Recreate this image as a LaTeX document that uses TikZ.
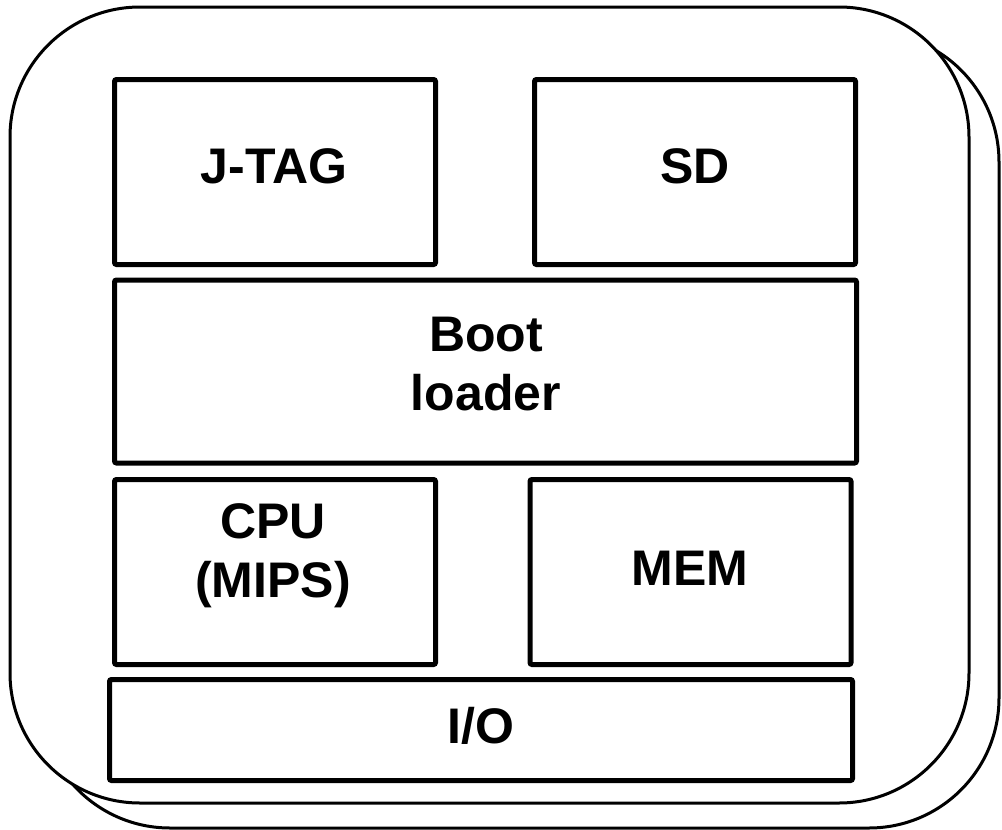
\documentclass[tikz,border=0pt]{standalone}
\usepackage{fontspec}
\setmainfont{Liberation Sans}
\begin{document}
\begin{tikzpicture}[x=1pt,y=-1pt,
  panel/.style={draw=black, line width=3pt, fill=white, rounded corners=130pt},
  block/.style={draw=black, line width=5pt, rounded corners=2pt, inner sep=0pt, fill=white},
  label/.style={font=\fontsize{50}{59}\selectfont\bfseries, align=center, anchor=base, inner sep=0pt}]
  \useasboundingbox (0,0) rectangle (1002,830);

  % stacked board outlines
  \draw[panel] (40,32) rectangle (999,828);
  \draw[panel] (10,7) rectangle (969,803);

  % functional blocks
  \node[block, minimum width=321pt, minimum height=185pt] (jtag) at (275,172) {};
  \node[block, minimum width=321pt, minimum height=185pt] (sd)   at (695,172) {};
  \node[block, minimum width=742pt, minimum height=183pt] (boot) at (485.5,371.5) {};
  \node[block, minimum width=321pt, minimum height=185pt] (cpu)  at (275,572) {};
  \node[block, minimum width=321pt, minimum height=185pt] (mem)  at (690.5,572) {};
  \node[block, minimum width=743pt, minimum height=101pt] (io)   at (481,730) {};

  % block captions (base = baseline of the last line)
  \node[label] (jtagtxt) at (274,183) {J-TAG};
  \node[label] (sdtxt)   at (695,183) {SD};
  \node[label] (boottxt) at (486,410) {Boot\\loader};
  \node[label] (cputxt)  at (273,597) {CPU\\(MIPS)};
  \node[label] (memtxt)  at (690,585) {MEM};
  \node[label] (iotxt)   at (481,743) {I/O};
\end{tikzpicture}
\end{document}
